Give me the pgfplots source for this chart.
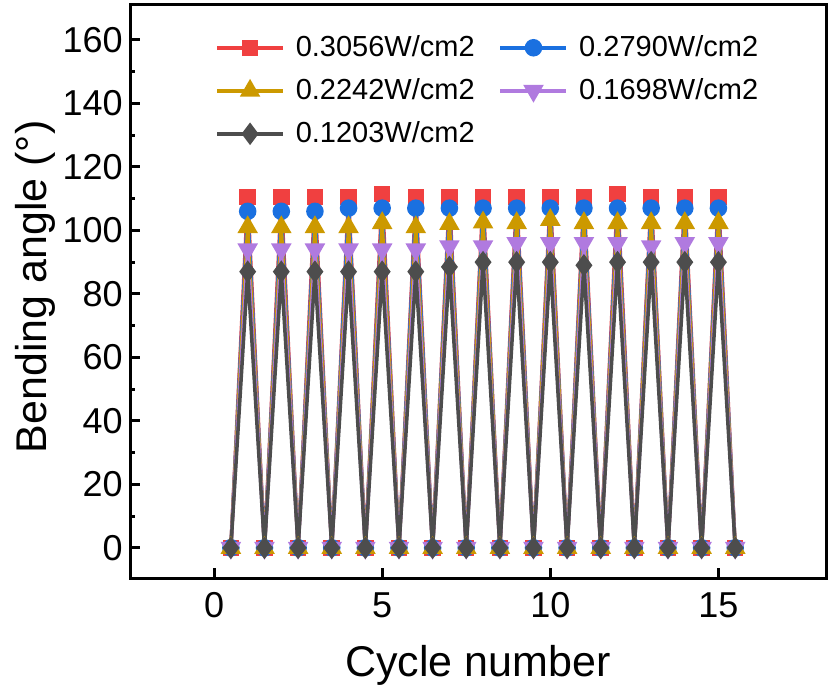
\documentclass[border=0pt]{standalone}
\usepackage{pgfplots}
\pgfplotsset{compat=1.18}
\usepackage{fontspec}
\setmainfont{Liberation Sans}
\definecolor{cred}{RGB}{240,64,64}
\definecolor{cblue}{RGB}{26,112,224}
\definecolor{cgold}{RGB}{204,153,0}
\definecolor{cpurp}{RGB}{176,122,223}
\definecolor{cgray}{RGB}{77,77,77}
\begin{document}
\begin{tikzpicture}
\begin{axis}[
  at={(0,0)}, anchor=south west,
  scale only axis, width=348pt, height=286.5pt,
  xmin=-2.5, xmax=18.2, ymin=-9.5, ymax=171,
  xtick={0,5,10,15}, ytick={0,20,...,160},
  minor y tick num=1,
  xtick pos=left, ytick pos=left,
  tick align=inside,
  major tick length=5pt, minor tick length=2.5pt,
  axis line style={line width=1.5pt},
  every tick/.style={line width=1.5pt, black},
  /pgf/number format/assume math mode=true,
  ticklabel style={font=\fontsize{18}{20}\selectfont},
  xticklabel style={inner sep=0pt, yshift=-7pt},
  yticklabel style={inner sep=0pt, xshift=-3.5pt},
  xlabel={Cycle number}, ylabel={Bending angle (°)},
  label style={font=\fontsize{21.5}{24}\selectfont},
  x label style={at={(axis description cs:0.5,-0.152)}, anchor=center},
  y label style={at={(axis description cs:-0.1365,0.508)}, anchor=center},
  legend columns=2,
  legend cell align=left,
  legend style={draw=none, fill=none, font=\fontsize{14.5}{16}\selectfont,
    at={(axis description cs:0.122,0.947)}, anchor=north west,
    inner sep=0pt, row sep=9.5pt,
    nodes={inner sep=0pt},
    /tikz/every odd column/.append style={column sep=5.5pt},
    /tikz/every even column/.append style={column sep=12pt}},
  legend image code/.code={\draw[mark repeat=2,mark phase=2] plot coordinates {(0pt,0pt) (16.5pt,0pt) (33pt,0pt)};},
  every axis plot/.append style={line width=1.75pt},
]
\addplot[cred, mark=square*, mark size=3.25pt, mark options={solid}] coordinates {
(0.5,0)(1,110.5)(1.5,0)(2,110.5)(2.5,0)(3,110.5)(3.5,0)(4,110.5)(4.5,0)(5,111.5)(5.5,0)(6,110.5)(6.5,0)(7,110.5)(7.5,0)(8,110.5)(8.5,0)(9,110.5)(9.5,0)(10,110.5)(10.5,0)(11,110.5)(11.5,0)(12,111.5)(12.5,0)(13,110.5)(13.5,0)(14,110.5)(14.5,0)(15,110.5)(15.5,0)};
\addlegendentry{0.3056W/cm2}
\addplot[cblue, mark=*, mark size=3.5pt] coordinates {
(0.5,0)(1,106)(1.5,0)(2,106)(2.5,0)(3,106)(3.5,0)(4,107)(4.5,0)(5,107)(5.5,0)(6,107)(6.5,0)(7,107)(7.5,0)(8,107)(8.5,0)(9,107)(9.5,0)(10,107)(10.5,0)(11,107)(11.5,0)(12,107)(12.5,0)(13,107)(13.5,0)(14,107)(14.5,0)(15,107)(15.5,0)};
\addlegendentry{0.2790W/cm2}
\addplot[cgold, mark=triangle*, mark size=4.2pt] coordinates {
(0.5,0)(1,101)(1.5,0)(2,101)(2.5,0)(3,101)(3.5,0)(4,101)(4.5,0)(5,102.3)(5.5,0)(6,101)(6.5,0)(7,102)(7.5,0)(8,102.5)(8.5,0)(9,102.3)(9.5,0)(10,103.3)(10.5,0)(11,102.3)(11.5,0)(12,102.3)(12.5,0)(13,102.3)(13.5,0)(14,102.3)(14.5,0)(15,102.3)(15.5,0)};
\addlegendentry{0.2242W/cm2}
\addplot[cpurp, mark=triangle*, mark size=4.2pt, mark options={rotate=180}] coordinates {
(0.5,0)(1,94)(1.5,0)(2,94)(2.5,0)(3,94)(3.5,0)(4,94)(4.5,0)(5,94)(5.5,0)(6,94)(6.5,0)(7,95)(7.5,0)(8,95)(8.5,0)(9,96)(9.5,0)(10,96)(10.5,0)(11,96)(11.5,0)(12,96)(12.5,0)(13,95)(13.5,0)(14,96)(14.5,0)(15,96)(15.5,0)};
\addlegendentry{0.1698W/cm2}
\addplot[cgray, mark=diamond*, mark size=4.2pt] coordinates {
(0.5,0)(1,87)(1.5,0)(2,87)(2.5,0)(3,87)(3.5,0)(4,87)(4.5,0)(5,87)(5.5,0)(6,87)(6.5,0)(7,88.5)(7.5,0)(8,90)(8.5,0)(9,90)(9.5,0)(10,90)(10.5,0)(11,89)(11.5,0)(12,90)(12.5,0)(13,90)(13.5,0)(14,90)(14.5,0)(15,90)(15.5,0)};
\addlegendentry{0.1203W/cm2}
\end{axis}
\pgfresetboundingbox
\path[use as bounding box] (-65pt,-59pt) rectangle (349pt,289pt);
\end{tikzpicture}
\end{document}
